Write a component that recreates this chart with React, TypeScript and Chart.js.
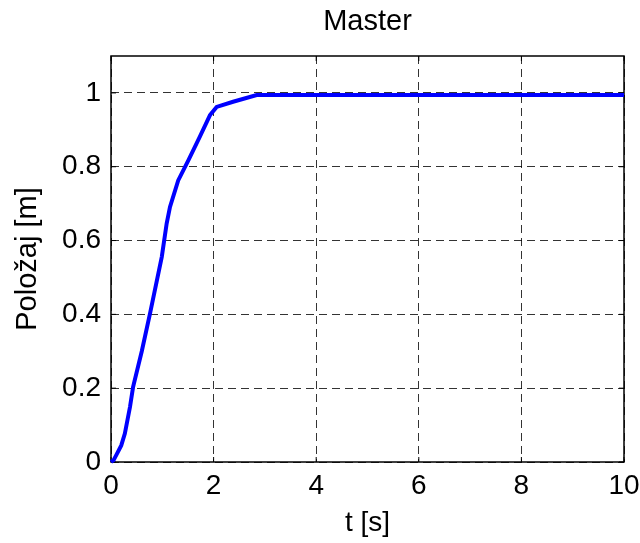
import React, { useEffect, useRef } from "react";
import { Chart, registerables } from "chart.js";

Chart.register(...registerables);

const titleText = "Master";
const xLabel = "t [s]";
const yLabel = "Položaj [m]";

const timeValues = [0, 0.05, 0.1, 0.2, 0.27, 0.37, 0.43, 0.6, 0.76, 0.99, 1.085, 1.15, 1.31, 1.51, 1.73, 1.93, 2.06, 2.38, 2.84, 10];
const positionValues = [0, 0.005, 0.018, 0.045, 0.077, 0.149, 0.203, 0.3, 0.402, 0.556, 0.646, 0.691, 0.763, 0.818, 0.881, 0.94, 0.962, 0.976, 0.994, 0.994];

const xTicks = [0, 2, 4, 6, 8, 10];
const yTicks = [0, 0.2, 0.4, 0.6, 0.8, 1];

const FONT = "'Liberation Sans', Arial, Helvetica, sans-serif";

const framePlugin = {
  id: "frame",
  beforeDatasetsDraw(chart: any) {
    const { ctx, chartArea } = chart;
    const { left, right, top, bottom } = chartArea;
    const xs = chart.scales.x;
    const ys = chart.scales.y;
    ctx.save();
    ctx.strokeStyle = "#000";
    ctx.lineWidth = 1.5;
    ctx.setLineDash([]);
    ctx.strokeRect(left, top, right - left, bottom - top);
    ctx.lineWidth = 1;
    const tl = 5;
    ctx.beginPath();
    xTicks.forEach((v) => {
      const px = xs.getPixelForValue(v);
      ctx.moveTo(px, bottom);
      ctx.lineTo(px, bottom - tl);
      ctx.moveTo(px, top);
      ctx.lineTo(px, top + tl);
    });
    yTicks.forEach((v) => {
      const py = ys.getPixelForValue(v);
      ctx.moveTo(left, py);
      ctx.lineTo(left + tl, py);
      ctx.moveTo(right, py);
      ctx.lineTo(right - tl, py);
    });
    ctx.stroke();
    ctx.restore();
  },
};

export default function App() {
  const canvasRef = useRef<HTMLCanvasElement | null>(null);

  useEffect(() => {
    if (!canvasRef.current) return;
    const data = timeValues.map((t, i) => ({ x: t, y: positionValues[i] }));
    const chart = new Chart(canvasRef.current, {
      type: "line",
      data: {
        datasets: [
          {
            data,
            borderColor: "#0000FF",
            borderWidth: 4,
            pointRadius: 0,
            tension: 0,
            fill: false,
            clip: 4,
          } as any,
        ],
      },
      options: {
        responsive: false,
        animation: false,
        devicePixelRatio: 1,
        layout: { padding: { left: 0, right: 16, top: 0, bottom: 0 } },
        plugins: {
          legend: { display: false },
          tooltip: { enabled: false },
          title: {
            display: true,
            fullSize: false,
            text: titleText,
            color: "#000",
            font: { family: FONT, size: 29, weight: "normal" },
            padding: { top: 5, bottom: 16.2 },
          },
        },
        scales: {
          x: {
            type: "linear",
            min: 0,
            max: 10,
            afterBuildTicks: (scale: any) => {
              scale.ticks = xTicks.map((v) => ({ value: v }));
            },
            afterFit: (scale: any) => {
              scale.height = 81;
              scale.paddingLeft = 0;
              scale.paddingRight = 0;
            },
            ticks: {
              color: "#000",
              font: { family: FONT, size: 28 },
              padding: 7,
              maxRotation: 0,
              callback: (v: any) => String(v),
            },
            grid: {
              color: "rgba(0,0,0,0.8)",
              lineWidth: 1,
              drawTicks: false,
            },
            border: { display: false, dash: [8, 5] },
            title: {
              display: true,
              text: xLabel,
              color: "#000",
              font: { family: FONT, size: 28 },
              padding: { top: 0, bottom: 3 },
            },
          },
          y: {
            type: "linear",
            min: 0,
            max: 1.1,
            afterBuildTicks: (scale: any) => {
              scale.ticks = yTicks.map((v) => ({ value: v }));
            },
            afterFit: (scale: any) => {
              scale.width = 111;
              scale.paddingTop = 0;
              scale.paddingBottom = 0;
            },
            ticks: {
              color: "#000",
              font: { family: FONT, size: 28 },
              padding: 10,
              callback: (v: any) => String(Math.round(Number(v) * 10) / 10),
            },
            grid: {
              color: "rgba(0,0,0,0.8)",
              lineWidth: 1,
              drawTicks: false,
            },
            border: { display: false, dash: [8, 5] },
            title: {
              display: true,
              text: yLabel,
              color: "#000",
              font: { family: FONT, size: 29 },
              padding: { top: 11, bottom: 0 },
            },
          },
        },
      },
      plugins: [framePlugin],
    });
    return () => chart.destroy();
  }, []);

  return (
    <div style={{ position: "absolute", left: 0, top: 0, width: 640, height: 543, background: "#fff" }}>
      <canvas ref={canvasRef} width={640} height={543} style={{ display: "block" }} />
    </div>
  );
}
